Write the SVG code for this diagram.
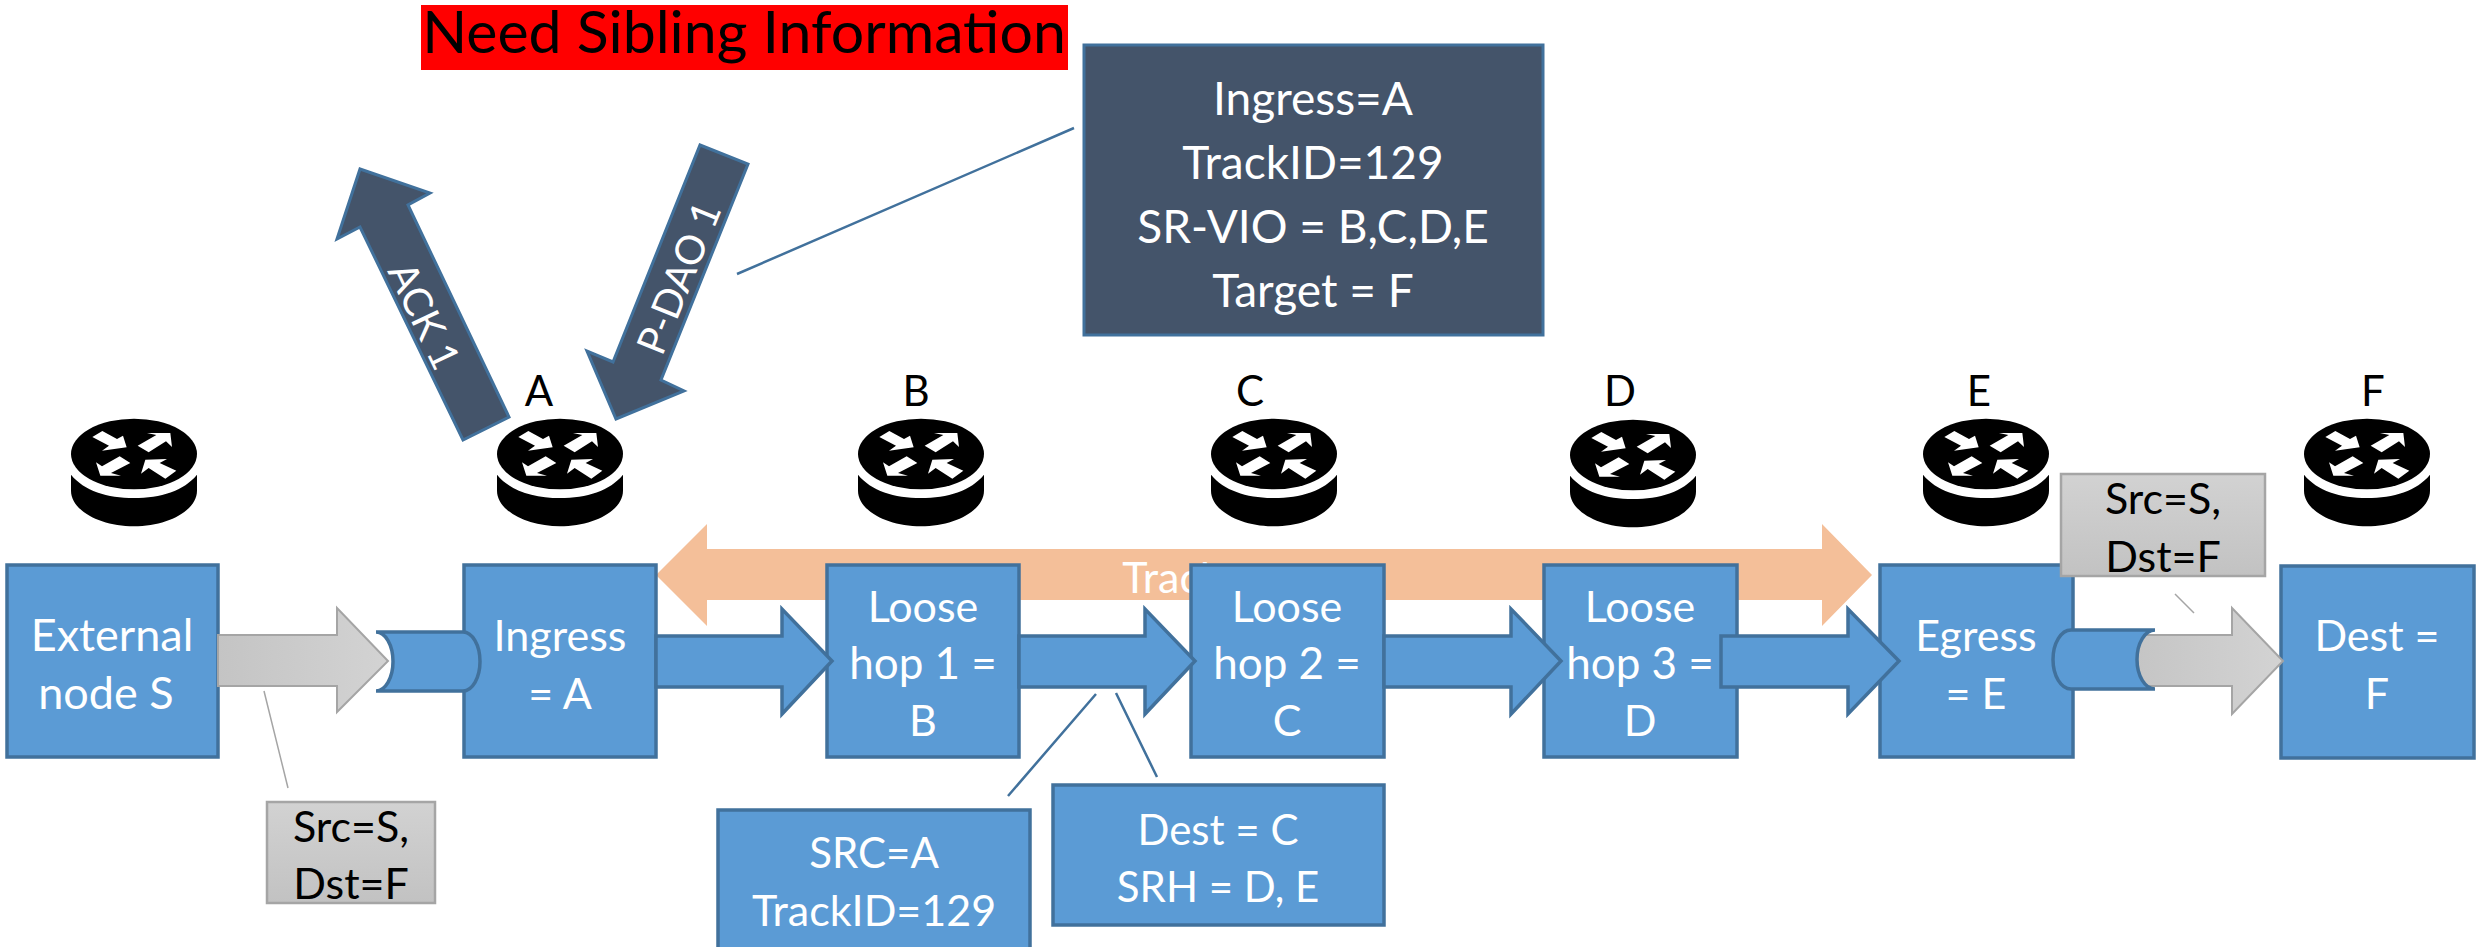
<svg xmlns="http://www.w3.org/2000/svg" xmlns:xlink="http://www.w3.org/1999/xlink" width="2476" height="947" viewBox="0 0 2476 947">
<style>
text{font-family:"Lato","Liberation Sans",sans-serif;text-anchor:middle}
.box{fill:#5b9bd5;stroke:#41719c;stroke-width:3.5}
.w{fill:#fff;font-size:43px}
.k{fill:#000;font-size:43px}
.lbl{fill:#000;font-size:42px}
.dark{fill:#44546a;stroke:#41719c;stroke-width:3}
.note{fill:url(#g);stroke:#a5a5a5;stroke-width:2.5}
.arr{fill:#5b9bd5;stroke:#41719c;stroke-width:3.5}
.gray{fill:url(#h);stroke:#a5a5a5;stroke-width:2}
.ln{stroke:#41719c;stroke-width:2.5;fill:none}
.gl{stroke:#a5a5a5;stroke-width:1.5;fill:none}
</style>
<defs>
<linearGradient id="g" x1="0" y1="0" x2="0" y2="1"><stop offset="0" stop-color="#d2d2d2"/><stop offset="1" stop-color="#c2c2c2"/></linearGradient>
<linearGradient id="h" x1="0" y1="0" x2="1" y2="0"><stop offset="0" stop-color="#c4c4c4"/><stop offset="1" stop-color="#d3d3d3"/></linearGradient>
<g id="router" transform="scale(.3333)">
<ellipse cx="0" cy="0" rx="189" ry="106"/>
<path d="M-189,62 C-150,110 -80,132 0,132 C80,132 150,110 189,62 V110 C189,170 100,217 0,217 C-100,217 -189,170 -189,110 Z"/>
<g fill="#fff">
<path d="M-125,-51 L-95,-69 L-51,-45 L-33,-55 L-22,-20 L-96,-10 L-75,-25 Z"/>
<path d="M11,-25 L67,-57 L39,-63 L109,-63 L114,-21 L96,-38 L44,-5 Z"/>
<path d="M-43,7 L-11,27 L-69,57 L-39,65 L-101,65 L-114,25 L-96,37 Z"/>
<path d="M127,50 L94,74 L44,42 L21,59 L34,17 L99,15 L77,27 Z"/>
</g>
</g>
</defs>
<rect width="2476" height="947" fill="#fff"/>
<g id="track">
<path d="M656,575 L707,524 V549 H1822 V524 L1872,575 L1822,626 V600 H707 V626 Z" fill="#f4bf99"/>
<text x="1172" y="593" class="w">Track</text>
</g>
<g id="router-s"><use xlink:href="#router" href="#router" x="134" y="454"/></g>
<g id="router-a"><use xlink:href="#router" href="#router" x="560" y="454"/><text x="539" y="406" class="lbl">A</text></g>
<g id="router-b"><use xlink:href="#router" href="#router" x="921" y="454"/><text x="916" y="406" class="lbl">B</text></g>
<g id="router-c"><use xlink:href="#router" href="#router" x="1274" y="454"/><text x="1250" y="406" class="lbl">C</text></g>
<g id="router-d"><use xlink:href="#router" href="#router" x="1633" y="455"/><text x="1620" y="406" class="lbl">D</text></g>
<g id="router-e"><use xlink:href="#router" href="#router" x="1986" y="454"/><text x="1979" y="406" class="lbl">E</text></g>
<g id="router-f"><use xlink:href="#router" href="#router" x="2367" y="454"/><text x="2373" y="406" class="lbl">F</text></g>
<g id="node-s"><rect class="box" x="7" y="565" width="211" height="192"/><text x="112" y="651" class="w" style="font-size:45px">External</text><text x="106" y="709" class="w" style="font-size:45px">node S</text></g>
<g id="node-a"><rect class="box" x="464" y="565" width="192" height="192"/><text x="560" y="651" class="w">Ingress</text><text x="560" y="709" class="w">= A</text></g>
<g id="node-b"><rect class="box" x="827" y="565" width="192" height="192"/><text x="923" y="622" class="w">Loose</text><text x="923" y="679" class="w" style="font-size:44px">hop 1 =</text><text x="923" y="736" class="w">B</text></g>
<g id="node-c"><rect class="box" x="1191" y="565" width="193" height="192"/><text x="1287" y="622" class="w">Loose</text><text x="1287" y="679" class="w" style="font-size:44px">hop 2 =</text><text x="1287" y="736" class="w">C</text></g>
<g id="node-d"><rect class="box" x="1544" y="565" width="193" height="192"/><text x="1640" y="622" class="w">Loose</text><text x="1640" y="679" class="w" style="font-size:44px">hop 3 =</text><text x="1640" y="736" class="w">D</text></g>
<g id="node-e"><rect class="box" x="1880" y="565" width="193" height="192"/><text x="1976" y="651" class="w">Egress</text><text x="1976" y="709" class="w">= E</text></g>
<g id="node-f"><rect class="box" x="2281" y="566" width="193" height="192"/><text x="2377" y="651" class="w">Dest =</text><text x="2377" y="709" class="w">F</text></g>
<g id="connectors">
<path class="gray" d="M218,635 H337 V608 L388,661 L337,712 V686 H218 Z"/>
<path class="arr" d="M376,632 H463 A17,29.5 0 0 1 463,691 H376 A17,29.5 0 0 0 376,632 Z"/>
<path class="arr" d="M656,636 H782 V609 L832,661 L782,714 V687 H656 Z"/>
<path class="arr" d="M1019,636 H1145 V609 L1195,661 L1145,714 V687 H1019 Z"/>
<path class="arr" d="M1384,636 H1511 V609 L1561,661 L1511,714 V687 H1384 Z"/>
<path class="arr" d="M1721,636 H1848 V609 L1899,661 L1848,714 V687 H1721 Z"/>
<path class="gray" d="M2125,635 H2232 V608 L2283,661 L2232,714 V686 H2125 Z"/>
<path class="arr" d="M2155,630 H2071 A18,29.5 0 0 0 2071,689 H2155 A18,29.5 0 0 1 2155,630 Z"/>
<path class="ln" d="M1074,128 L737,274 M1096,694 L1008,796 M1116,693 L1157,777"/>
<path class="gl" d="M264,691 L288,788 M2175,594 L2194,613"/>
</g>
<g id="ack"><path class="dark" d="M360,169 L430,193 L408,205 L509,417 L463,440 L360,227 L337,239 Z"/><text class="w" style="font-size:40px" transform="translate(424,316) rotate(64.5)" y="14">ACK 1</text></g>
<g id="pdao"><path class="dark" d="M700,145 L748,164 L661,380 L684,391 L616,419 L587,351 L613,362 Z"/><text class="w" style="font-size:40px" transform="translate(679,278) rotate(-68)" y="14">P-DAO 1</text></g>
<g id="need"><rect x="421" y="5" width="647" height="65" fill="#f00"/><text x="744" y="53" style="font-size:59px" fill="#000">Need Sibling Information</text></g>
<g id="pdao-info"><rect class="dark" x="1084" y="45" width="459" height="290"/><text x="1313" y="115" class="w" style="font-size:46px">Ingress=A</text><text x="1313" y="179" class="w" style="font-size:46px">TrackID=129</text><text x="1313" y="243" class="w" style="font-size:46px">SR-VIO = B,C,D,E</text><text x="1313" y="307" class="w" style="font-size:46px">Target = F</text></g>
<g id="src-note"><rect class="note" x="267" y="802" width="168" height="101"/><text x="351" y="842" class="k">Src=S,</text><text x="351" y="899" class="k">Dst=F</text></g>
<g id="dst-note"><rect class="note" x="2061" y="474" width="204" height="102"/><text x="2163" y="514" class="k">Src=S,</text><text x="2163" y="572" class="k">Dst=F</text></g>
<g id="src-info"><rect class="box" x="718" y="810" width="312" height="150"/><text x="874" y="868" class="w" style="font-size:42px">SRC=A</text><text x="874" y="926" class="w">TrackID=129</text></g>
<g id="dest-info"><rect class="box" x="1053" y="785" width="331" height="140"/><text x="1218" y="845" class="w" style="font-size:42px">Dest = C</text><text x="1218" y="902" class="w" style="font-size:42px">SRH = D, E</text></g>
</svg>
